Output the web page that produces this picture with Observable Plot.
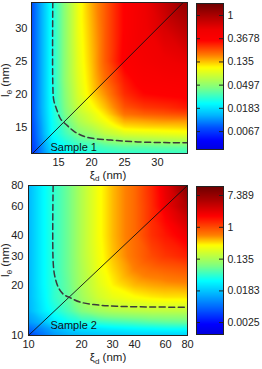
<!DOCTYPE html>
<html><head><meta charset="utf-8">
<script src="https://cdn.jsdelivr.net/npm/d3@7"></script>
<script src="https://cdn.jsdelivr.net/npm/@observablehq/plot@0.6"></script>
<style>
body{margin:0;background:#fff;width:262px;height:369px;overflow:hidden;position:relative;font-family:"Liberation Sans",Arial,sans-serif;}
.panel{position:absolute;}
.panel svg{overflow:visible;display:block;}
</style></head><body>
<div id="ht" class="panel" style="left:0;top:0"></div>
<div id="cbt" class="panel" style="left:190px;top:0"></div>
<div id="hb" class="panel" style="left:0;top:180px"></div>
<div id="cbb" class="panel" style="left:190px;top:180px"></div>
<script>
// ---------- Sample 1 (top): ln of the colour value on a grid of (xi_d, l_theta) ----------
const xiTop = [10.8, 12.5, 14, 16, 18, 20, 22, 25, 28, 31, 34.6];
const lTop  = [11, 12, 13, 14, 15, 16, 17, 18, 20, 22, 25, 30, 34.5];
const lnTop = [
  [-5.1, -4.55, -4.1, -3.85, -3.7, -3.65, -3.6, -3.55, -3.55, -3.52, -3.5],
  [-5.05, -4.5, -4.0, -3.75, -3.55, -3.5, -3.4, -3.3, -3.3, -3.27, -3.25],
  [-5.0, -4.45, -3.9, -3.6, -3.35, -3.25, -3.05, -2.9, -2.85, -2.8, -2.75],
  [-4.97, -4.4, -3.8, -3.45, -3.1, -2.95, -2.7, -2.5, -2.45, -2.4, -2.35],
  [-4.95, -4.38, -3.78, -3.35, -2.95, -2.75, -2.5, -2.15, -2.1, -2.08, -2.05],
  [-4.92, -4.35, -3.76, -3.25, -2.8, -2.55, -2.3, -1.9, -1.85, -1.8, -1.8],
  [-4.9, -4.32, -3.74, -3.15, -2.7, -2.45, -2.15, -1.65, -1.55, -1.5, -1.45],
  [-4.9, -4.3, -3.72, -3.1, -2.6, -2.3, -2.0, -1.5, -1.35, -1.3, -1.2],
  [-4.9, -4.3, -3.7, -3.05, -2.5, -2.1, -1.8, -1.3, -1.1, -1.05, -1.0],
  [-4.9, -4.3, -3.7, -3.0, -2.45, -2.05, -1.65, -1.2, -0.95, -0.9, -0.85],
  [-4.9, -4.3, -3.7, -3.0, -2.4, -2.0, -1.55, -1.0, -0.8, -0.65, -0.55],
  [-4.9, -4.3, -3.7, -3.0, -2.35, -1.95, -1.55, -1.05, -0.65, -0.4, -0.1],
  [-4.9, -4.3, -3.7, -3.0, -2.35, -1.9, -1.55, -1.05, -0.6, -0.2, 0.3]
];
// ---------- Sample 2 (bottom) ----------
const xiBot = [10, 12, 14, 17, 20, 25, 30, 40, 50, 60, 80];
const lBot  = [10, 11, 12, 14, 17, 20, 25, 30, 40, 50, 60, 80];
const lnBot = [
  [-5.5, -4.9, -4.5, -4.2, -4.1, -4.0, -4.0, -3.9, -3.9, -3.9, -3.85],
  [-5.0, -4.6, -4.2, -3.9, -3.7, -3.6, -3.5, -3.4, -3.35, -3.3, -3.3],
  [-4.5, -4.1, -3.6, -3.3, -3.1, -3.0, -2.9, -2.8, -2.7, -2.65, -2.6],
  [-4.2, -3.6, -3.2, -2.8, -2.4, -2.1, -1.95, -1.85, -1.8, -1.8, -1.8],
  [-4.15, -3.5, -3.0, -2.6, -2.1, -1.6, -1.35, -1.15, -1.05, -1.0, -1.0],
  [-4.15, -3.45, -3.0, -2.55, -2.0, -1.45, -1.1, -0.8, -0.7, -0.65, -0.6],
  [-4.15, -3.45, -3.0, -2.5, -1.95, -1.3, -0.95, -0.5, -0.3, -0.2, -0.1],
  [-4.15, -3.45, -3.0, -2.5, -1.9, -1.25, -0.85, -0.35, 0.0, 0.2, 0.4],
  [-4.15, -3.45, -3.0, -2.5, -1.9, -1.2, -0.8, -0.3, 0.25, 0.5, 0.9],
  [-4.15, -3.45, -3.0, -2.5, -1.9, -1.2, -0.8, -0.3, 0.3, 0.7, 1.3],
  [-4.15, -3.45, -3.0, -2.5, -1.9, -1.2, -0.8, -0.3, 0.3, 0.9, 1.7],
  [-4.15, -3.45, -3.0, -2.5, -1.9, -1.2, -0.8, -0.3, 0.35, 1.0, 2.3]
];
// overlay curves
const diagTop = [10.9, 34.55];           // xi_d = l_theta
const diagBot = [10, 80];
const dashTopXi = [14.13, 14.13, 14.28, 14.8, 15.3, 16.3, 17.5, 19.3, 22.9, 27, 34.6];
const dashTopL  = [34.0, 21.6, 19.1, 17.5, 16.3, 15.3, 14.3, 13.5, 13.1, 12.8, 12.66];
const dashBotXi = [13.8, 13.8, 14.1, 14.8, 15.8, 17.2, 19.6, 24.3, 31.5, 50, 80];
const dashBotL  = [80, 28, 22.8, 19.4, 17.7, 16.9, 15.9, 15.3, 15.0, 14.85, 14.8];
// ticks and labels
const xTicksTop = [15, 20, 25, 30];
const yTicksTop = [15, 20, 25, 30];
const ticksBot = [10, 20, 30, 40, 60, 80];
const cbTopLabels = ["1", "0.3678", "0.135", "0.0497", "0.0183", "0.0067"];
const cbBotLabels = ["7.389", "1", "0.135", "0.0183", "0.0025"];
const sampleLabels = ["Sample 1", "Sample 2"];
const lnRangeTop = [-5.776, 0.517];
const lnRangeBot = [-6.742, 2.566];

// ---------- colour maps (jet-like, stops as fraction from top of colorbar) ----------
const stopsTop = [[0,"#6e0000"],[0.08,"#aa0000"],[0.18,"#f00000"],[0.253,"#ff0000"],[0.356,"#ff8000"],[0.438,"#ffff00"],[0.575,"#80ff80"],[0.685,"#00ffff"],[0.767,"#00b4ff"],[0.85,"#0050ff"],[0.94,"#0000ff"],[1,"#0000e1"]];
const stopsBot = [[0,"#6e0000"],[0.09,"#aa0000"],[0.2,"#ff0000"],[0.33,"#ff8000"],[0.397,"#ffff00"],[0.534,"#80ff80"],[0.637,"#00ffff"],[0.726,"#00b4ff"],[0.842,"#0050ff"],[0.93,"#0000ff"],[1,"#0000dc"]];
function makeInterp(stops){
  const s = stops.slice().reverse();
  const sc = d3.scaleLinear().domain(s.map(d => 1 - d[0])).range(s.map(d => d[1])).interpolate(d3.interpolateRgb).clamp(true);
  return t => sc(t);
}
const colorTop = {type:"linear", domain: lnRangeTop, interpolate: makeInterp(stopsTop), clamp: true};
const colorBot = {type:"linear", domain: lnRangeBot, interpolate: makeInterp(stopsBot), clamp: true};

const grid = (xs, ys, vals) => ys.flatMap((y, i) => xs.map((x, j) => ({x, y, v: vals[i][j]})));
const pts = (xs, ys) => xs.map((x, i) => ({x, y: ys[i]}));
const FF = '"Liberation Sans", Arial, sans-serif';
const font = {fontFamily: FF, fontSize:"11px", color:"#222", background:"transparent", overflow:"visible", maxWidth:"none"};

function addLabels(svg, xl, yl){
  const s = d3.select(svg);
  const tx = s.append("text").attr("x", xl[0]).attr("y", xl[1]).attr("text-anchor","middle")
    .attr("fill","#222").attr("font-size","11.5px").attr("font-family", FF);
  tx.append("tspan").text("ξ");
  tx.append("tspan").attr("dy", 2.5).attr("font-size","8px").text("d");
  tx.append("tspan").attr("dy", -2.5).text(" (nm)");
  const ty = s.append("text").attr("transform", `translate(${yl[0]},${yl[1]}) rotate(-90)`).attr("text-anchor","middle")
    .attr("fill","#222").attr("font-size","11.5px").attr("font-family", FF);
  ty.append("tspan").text("l");
  ty.append("tspan").attr("dy", 2.5).attr("font-size","8px").text("θ");
  ty.append("tspan").attr("dy", -2.5).text(" (nm)");
}

// ---------- top heatmap ----------
const pTop = Plot.plot({
  width:190, height:180, marginLeft:31, marginRight:3, marginTop:2, marginBottom:27,
  style: font,
  x:{domain:[10.9, 34.55], ticks: xTicksTop, tickSize:0, tickPadding:5, label:null},
  y:{domain:[11.05, 33.9], ticks: yTicksTop, tickSize:0, tickPadding:4, label:null},
  color: colorTop,
  marks:[
    Plot.raster(grid(xiTop, lTop, lnTop), {x:"x", y:"y", fill:"v", interpolate:"barycentric"}),
    Plot.line(pts(diagTop, diagTop), {x:"x", y:"y", stroke:"#111", strokeWidth:0.9, clip:true}),
    Plot.line(pts(dashTopXi, dashTopL), {x:"x", y:"y", curve:"catmull-rom", stroke:"#3a3a3a", strokeWidth:1.5, strokeDasharray:"6,3.5", clip:true}),
    Plot.text([sampleLabels[0]], {text: d => d, frameAnchor:"bottom-left", dx:19, dy:-6, textAnchor:"start", lineAnchor:"middle", fill:"#111", fontSize:11}),
    Plot.frame({stroke:"#222"})
  ]
});
addLabels(pTop, [108, 178.5], [9, 80]);
document.getElementById("ht").append(pTop);

// ---------- bottom heatmap ----------
const pBot = Plot.plot({
  width:190, height:189, marginLeft:28, marginRight:3, marginTop:5, marginBottom:34,
  style: font,
  x:{type:"log", domain:[10, 80], ticks: ticksBot, tickFormat: d => String(d), tickSize:0, tickPadding:5, label:null},
  y:{type:"log", domain:[10, 80], ticks: ticksBot, tickFormat: d => String(d), tickSize:0, tickPadding:5, label:null},
  color: colorBot,
  marks:[
    Plot.raster(grid(xiBot, lBot, lnBot), {x:"x", y:"y", fill:"v", interpolate:"barycentric"}),
    Plot.line(pts(diagBot, diagBot), {x:"x", y:"y", stroke:"#111", strokeWidth:0.9, clip:true}),
    Plot.line(pts(dashBotXi, dashBotL), {x:"x", y:"y", curve:"catmull-rom", stroke:"#3a3a3a", strokeWidth:1.5, strokeDasharray:"6,3.5", clip:true}),
    Plot.text([sampleLabels[1]], {text: d => d, frameAnchor:"bottom-left", dx:22, dy:-10, textAnchor:"start", lineAnchor:"middle", fill:"#111", fontSize:11}),
    Plot.frame({stroke:"#222"})
  ]
});
addLabels(pBot, [108, 181], [9, 80]);
document.getElementById("hb").append(pBot);

// ---------- colorbars ----------
function colorbar(labels, lnRange, color, h, mt, mb){
  const ticks = labels.map(s => Math.log(+s));
  return Plot.plot({
    width:72, height:h, marginLeft:6, marginRight:39, marginTop:mt, marginBottom:mb,
    style: {...font, fontSize:"10.5px"},
    x:{domain:[0, 1], axis:null},
    y:{domain: lnRange, ticks, tickFormat: d => labels[ticks.indexOf(d)], tickSize:0, tickPadding:4, axis:"right", label:null},
    color,
    marks:[
      Plot.raster({fill: (x, y) => y, x1:0, x2:1, y1: lnRange[0], y2: lnRange[1]}),
      Plot.tickY(ticks, {y: d => d, insetLeft:23, stroke:"#222"}),
      Plot.tickY(ticks, {y: d => d, insetRight:23, stroke:"#222"}),
      Plot.frame({stroke:"#222"})
    ]
  });
}
document.getElementById("cbt").append(colorbar(cbTopLabels, lnRangeTop, colorTop, 160, 3, 11));
document.getElementById("cbb").append(colorbar(cbBotLabels, lnRangeBot, colorBot, 189, 6, 35));
</script>
</body></html>
